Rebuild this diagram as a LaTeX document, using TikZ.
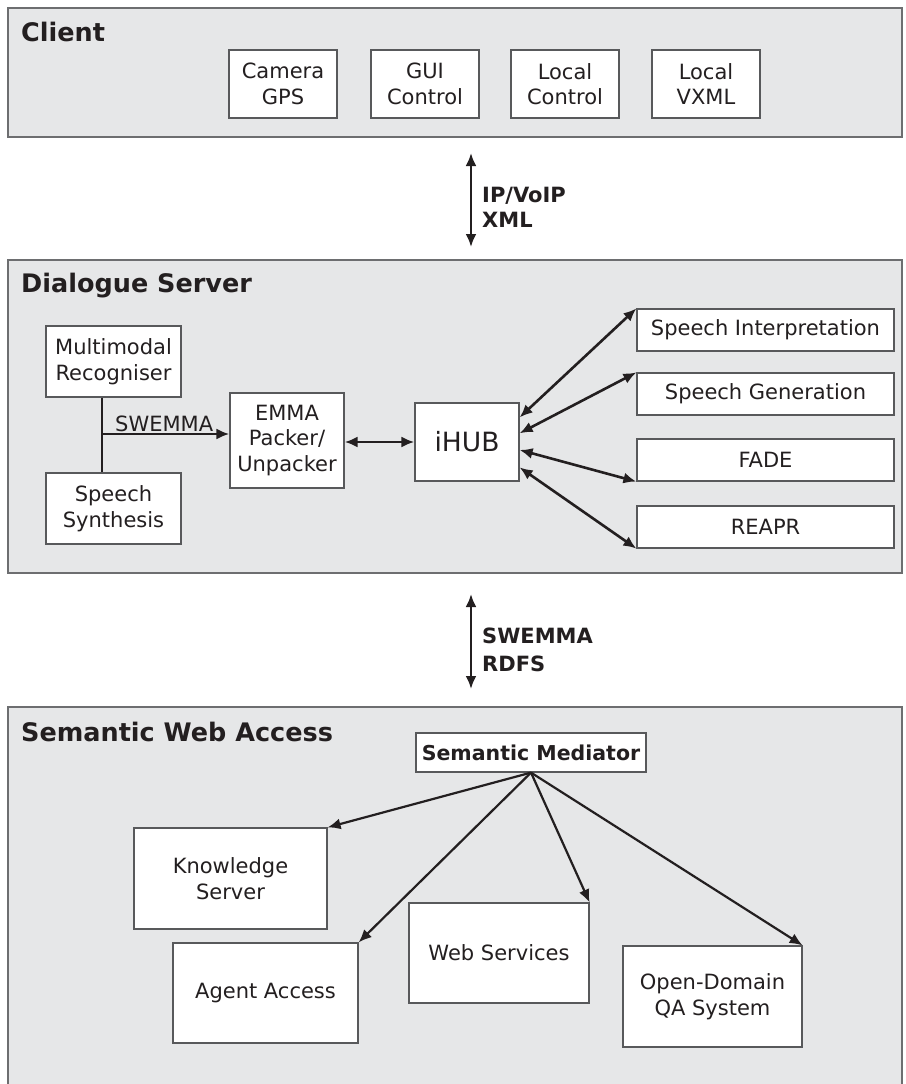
\documentclass[tikz,border=0pt]{standalone}
\usepackage{fontspec}
\setmainfont{DejaVu Sans}
\usetikzlibrary{arrows.meta,calc}
\definecolor{panelfill}{HTML}{E6E7E8}
\definecolor{panelline}{HTML}{6D6E70}
\definecolor{boxline}{HTML}{58595B}
\definecolor{ink}{HTML}{231F20}
\begin{document}
\begin{tikzpicture}[x=1pt,y=-1pt,
  panel/.style={draw=panelline, fill=panelfill, line width=1.5pt, inner sep=0pt},
  box/.style={draw=boxline, fill=white, line width=1.2pt, inner sep=0pt, align=center,
    font=\fontsize{21}{25.5}\selectfont, text=ink},
  ptitle/.style={anchor=base west, inner sep=0pt, font=\fontsize{25.5}{30}\selectfont\bfseries, text=ink},
  blabel/.style={anchor=west, inner sep=0pt, align=left, text=ink},
  conn/.style={draw=ink, line width=2.6pt},
  arr/.style={conn, -{Latex[length=13pt,width=11pt]}},
  darr/.style={conn, {Latex[length=13pt,width=11pt]}-{Latex[length=13pt,width=11pt]}},
]
\useasboundingbox (0,0) rectangle (905,1084);
\fill[white] (0,0) rectangle (905,1084);

% panels
\node[panel, minimum width=894pt, minimum height=129pt] (client) at (455,72.5) {};
\node[panel, minimum width=894pt, minimum height=313pt] (dialog) at (455,416.5) {};
\node[panel, minimum width=894pt, minimum height=390pt] (semweb) at (455,902) {};

\node[ptitle] (tclient) at (21,41) {Client};
\node[ptitle] (tdialog) at (21,292) {Dialogue Server};
\node[ptitle] (tsemweb) at (21,741) {Semantic Web Access};

% client boxes
\node[box, minimum width=108pt, minimum height=68pt] (cam) at (283,84) {Camera\\GPS};
\node[box, minimum width=108pt, minimum height=68pt] (gui) at (425,84) {GUI\\Control};
\node[box, minimum width=108pt, minimum height=68pt] (lctl) at (565,84) {Local\\Control};
\node[box, minimum width=108pt, minimum height=68pt] (lvxml) at (706,84) {Local\\VXML};

% client <-> dialogue server
\coordinate (c1t) at (471,153);
\coordinate (c1b) at (471,247);
\draw[darr] (c1t) -- (c1b);
\node[blabel, font=\fontsize{21}{25}\selectfont\bfseries] (lab1) at (482,207) {IP/VoIP\\XML};

% dialogue server
\node[box, minimum width=135pt, minimum height=71pt] (mmr) at (113.5,361.5) {Multimodal\\Recogniser};
\node[box, minimum width=135pt, minimum height=71pt] (ss) at (113.5,508.5) {Speech\\Synthesis};
\node[box, minimum width=114pt, minimum height=95pt] (emma) at (287,440.5) {EMMA\\Packer/\\Unpacker};
\node[box, minimum width=104pt, minimum height=78pt, font=\fontsize{26.5}{30}\selectfont] (ihub) at (467,442) {iHUB};

\coordinate (jn) at (102,434);
\draw[conn] (mmr.south -| jn) -- (ss.north -| jn);
\draw[arr] (jn) -- (emma.west |- jn);
\node[anchor=base west, inner sep=0pt, font=\fontsize{21}{25}\selectfont, text=ink] (swl) at (115,431) {SWEMMA};

\draw[darr] (emma.east |- ihub.center) -- (ihub.west);

\node[box, minimum width=257pt, minimum height=42pt] (si) at (765.5,330) {Speech Interpretation};
\node[box, minimum width=257pt, minimum height=42pt] (sg) at (765.5,394) {Speech Generation};
\node[box, minimum width=257pt, minimum height=42pt] (fade) at (765.5,460) {FADE};
\node[box, minimum width=257pt, minimum height=42pt] (reapr) at (765.5,527) {REAPR};

\draw[darr] ($(ihub.north east)!0.19!(ihub.south east)$) -- (si.north west);
\draw[darr] ($(ihub.north east)!0.39!(ihub.south east)$) -- (sg.north west);
\draw[darr] ($(ihub.north east)!0.60!(ihub.south east)$) -- (fade.south west);
\draw[darr] ($(ihub.north east)!0.82!(ihub.south east)$) -- (reapr.south west);

% dialogue server <-> semantic web
\coordinate (c2t) at (471,594);
\coordinate (c2b) at (471,689);
\draw[darr] (c2t) -- (c2b);
\node[blabel, font=\fontsize{21}{28}\selectfont\bfseries] (lab2) at (482,650) {SWEMMA\\RDFS};

% semantic web access
\node[box, minimum width=230pt, minimum height=39pt, font=\fontsize{20.5}{24}\selectfont\bfseries] (med) at (531,752.5) {Semantic Mediator};
\node[box, minimum width=193pt, minimum height=101pt] (ks) at (230.5,878.5) {Knowledge\\Server};
\node[box, minimum width=185pt, minimum height=100pt] (aa) at (265.5,993) {Agent Access};
\node[box, minimum width=180pt, minimum height=100pt] (ws) at (499,953) {Web Services};
\node[box, minimum width=179pt, minimum height=101pt] (qa) at (712.5,996.5) {Open-Domain\\QA System};

\draw[arr, line width=2.2pt] (med.south) -- (ks.north east);
\draw[arr, line width=2.2pt] (med.south) -- (aa.north east);
\draw[arr, line width=2.2pt] (med.south) -- (ws.north east);
\draw[arr, line width=2.2pt] (med.south) -- (qa.north east);
\end{tikzpicture}
\end{document}
